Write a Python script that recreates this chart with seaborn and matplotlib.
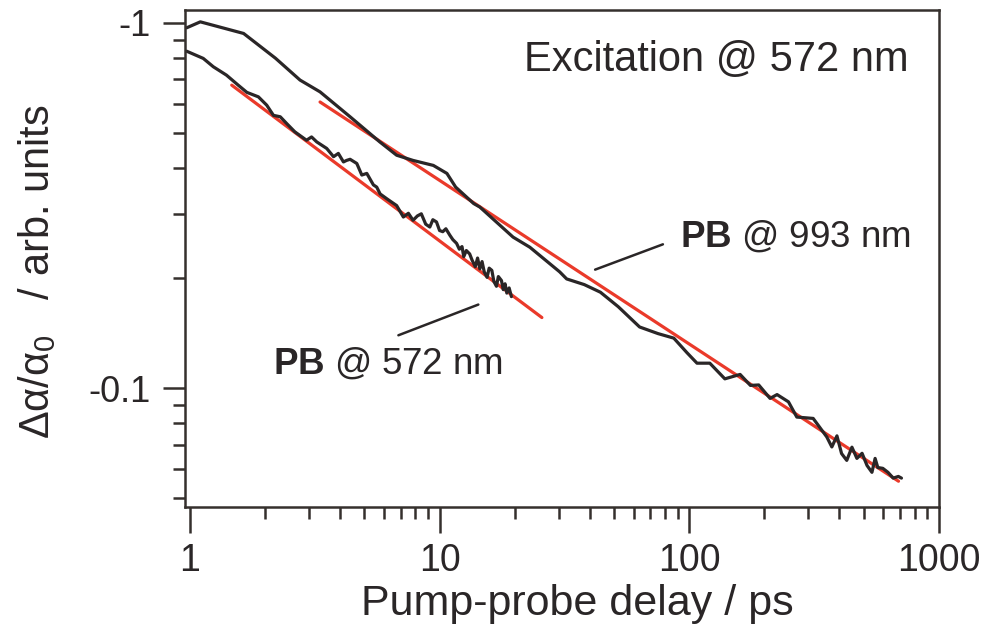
import numpy as np
import pandas as pd
import matplotlib
matplotlib.use("Agg")
import matplotlib.pyplot as plt
from matplotlib.ticker import FixedLocator, FixedFormatter, NullFormatter
import seaborn as sns

# Photobleaching transient probed at 993 nm (delay in ps, |Δα/α0|)
delay_993 = [0.97, 1.10, 1.64, 2.20, 2.76, 3.32, 4.38, 5.76, 6.73, 7.83, 9.44,
             10.7, 11.6, 13.7, 14.5, 19.7, 23.0, 30.3, 32.3, 38.0, 44.1, 52.0,
             63.3, 75.0, 86.8, 98.0, 107.5, 121, 139, 160, 176, 190, 211, 225,
             250, 270, 314, 356, 373, 391, 408, 428, 449, 470, 493, 516, 540,
             556, 570, 597, 626, 657, 689, 709]
signal_993 = [0.969, 1.006, 0.935, 0.800, 0.697, 0.647, 0.553, 0.472, 0.434,
              0.420, 0.407, 0.387, 0.355, 0.320, 0.313, 0.259, 0.243, 0.208,
              0.199, 0.192, 0.183, 0.167, 0.147, 0.141, 0.137, 0.125, 0.117,
              0.117, 0.106, 0.109, 0.1017, 0.102, 0.0937, 0.096, 0.0917,
              0.0833, 0.0826, 0.0735, 0.0690, 0.0740, 0.0662, 0.0634, 0.0689,
              0.0642, 0.0663, 0.0614, 0.0588, 0.0642, 0.0606, 0.0603, 0.0588,
              0.0567, 0.0573, 0.0567]

# Photobleaching transient probed at 572 nm
delay_572 = [0.97, 1.13, 1.24, 1.40, 1.56, 1.69, 1.88, 2.03, 2.16, 2.30, 2.44,
             2.63, 2.93, 3.07, 3.22, 3.53, 3.76, 3.93, 4.12, 4.24, 4.38, 4.66,
             4.88, 5.11, 5.43, 5.60, 5.78, 6.14, 6.34, 6.73, 7.16, 7.50, 7.83,
             8.15, 8.45, 8.80, 9.14, 9.40, 9.72, 10.0, 10.3, 10.6, 11.0, 11.3,
             11.7, 12.0, 12.3, 12.5, 12.8, 13.2, 13.5, 13.9, 14.2, 14.5, 14.8,
             15.1, 15.5, 15.8, 16.2, 16.5, 16.9, 17.2, 17.7, 18.0, 18.3, 18.6,
             19.0, 19.4]
signal_572 = [0.836, 0.799, 0.758, 0.719, 0.675, 0.645, 0.627, 0.595, 0.558,
              0.553, 0.530, 0.503, 0.477, 0.487, 0.472, 0.453, 0.430, 0.439,
              0.416, 0.420, 0.423, 0.412, 0.383, 0.387, 0.360, 0.355, 0.340,
              0.330, 0.325, 0.316, 0.294, 0.301, 0.288, 0.296, 0.300, 0.281,
              0.276, 0.289, 0.285, 0.270, 0.268, 0.273, 0.262, 0.255, 0.249,
              0.240, 0.244, 0.229, 0.238, 0.233, 0.224, 0.215, 0.227, 0.212,
              0.222, 0.208, 0.201, 0.213, 0.210, 0.196, 0.190, 0.202, 0.197,
              0.186, 0.193, 0.182, 0.188, 0.178]

# Power-law fits (end points of the straight lines in log-log space)
fit_993_x = [3.32, 690]
fit_993_y = [0.607, 0.0556]
fit_572_x = [1.47, 25.7]
fit_572_y = [0.675, 0.156]

x_major = [1, 10, 100, 1000]
x_major_labels = ["1", "10", "100", "1000"]
y_major = [0.1, 1.0]
y_major_labels = ["-0.1", "-1"]

sns.set_theme(style="white")
plt.rcParams["font.family"] = ["Liberation Sans", "DejaVu Sans"]
plt.rcParams["mathtext.fontset"] = "custom"
plt.rcParams["mathtext.rm"] = "Liberation Sans"
plt.rcParams["mathtext.it"] = "Liberation Sans:italic"
plt.rcParams["mathtext.bf"] = "Liberation Sans:bold"

INK = "#2a2627"
SPINE = "#35302d"
RED = "#ea3a2a"

data = pd.concat([
    pd.DataFrame({"delay": delay_993, "signal": signal_993, "trace": "993"}),
    pd.DataFrame({"delay": delay_572, "signal": signal_572, "trace": "572"}),
])
fits = pd.concat([
    pd.DataFrame({"delay": fit_993_x, "signal": fit_993_y, "trace": "fit993"}),
    pd.DataFrame({"delay": fit_572_x, "signal": fit_572_y, "trace": "fit572"}),
])

fig = plt.figure(figsize=(9.84, 6.34), dpi=100)
ax = fig.add_axes([0.188, 0.200, 0.766, 0.784])

sns.lineplot(data=fits, x="delay", y="signal", units="trace", estimator=None,
             sort=False, color=RED, lw=2.3, ax=ax, legend=False)
sns.lineplot(data=data, x="delay", y="signal", units="trace", estimator=None,
             sort=False, color=INK, lw=2.3, ax=ax, legend=False)

ax.set_xscale("log")
ax.set_yscale("log")
ax.set_xlim(0.955, 1000)
ax.set_ylim(0.0472, 1.083)

ax.xaxis.set_major_locator(FixedLocator(x_major))
ax.xaxis.set_major_formatter(FixedFormatter(x_major_labels))
ax.xaxis.set_minor_locator(FixedLocator(
    [m * d for d in (1, 10, 100) for m in range(2, 10)]))
ax.xaxis.set_minor_formatter(NullFormatter())
ax.yaxis.set_major_locator(FixedLocator(y_major))
ax.yaxis.set_major_formatter(FixedFormatter(y_major_labels))
ax.yaxis.set_minor_locator(FixedLocator(
    [m * d for d in (0.01, 0.1) for m in range(2, 10)]))
ax.yaxis.set_minor_formatter(NullFormatter())

for s in ax.spines.values():
    s.set_color(SPINE)
    s.set_linewidth(1.8)

ax.tick_params(axis="x", which="major", direction="out", length=19, width=1.8,
               color=SPINE, labelsize=27, labelcolor=INK, pad=7, bottom=True)
ax.tick_params(axis="x", which="minor", direction="out", length=8.5, width=1.8,
               color=SPINE, bottom=True)
ax.tick_params(axis="y", which="major", direction="out", length=16, width=1.8,
               color=SPINE, labelsize=26, labelcolor=INK, pad=9, left=True)
ax.tick_params(axis="y", which="minor", direction="out", length=8.5, width=1.8,
               color=SPINE, left=True)

ax.set_xlabel("Pump-probe delay / ps", fontsize=31, color=INK)
ax.xaxis.set_label_coords(0.521, -0.155)
ax.set_ylabel(r"$\mathrm{\Delta\alpha/\alpha_0}$   / arb. units", fontsize=30,
              color=INK)
ax.yaxis.set_label_coords(-0.168, 0.473)

ax.text(755, 0.79, "Excitation @ 572 nm", fontsize=30, color=INK,
        ha="right", va="center")
ax.text(92.0, 0.259, r"$\mathbf{PB}$ @ 993 nm", fontsize=26.5, color=INK,
        ha="left", va="center")
ax.text(2.15, 0.117, r"$\mathbf{PB}$ @ 572 nm", fontsize=26.5, color=INK,
        ha="left", va="center")

ax.plot([42.0, 78.5], [0.211, 0.2475], color=INK, lw=1.8)
ax.plot([6.84, 14.3], [0.1395, 0.1693], color=INK, lw=1.8)

fig.savefig("out.png", dpi=100)
